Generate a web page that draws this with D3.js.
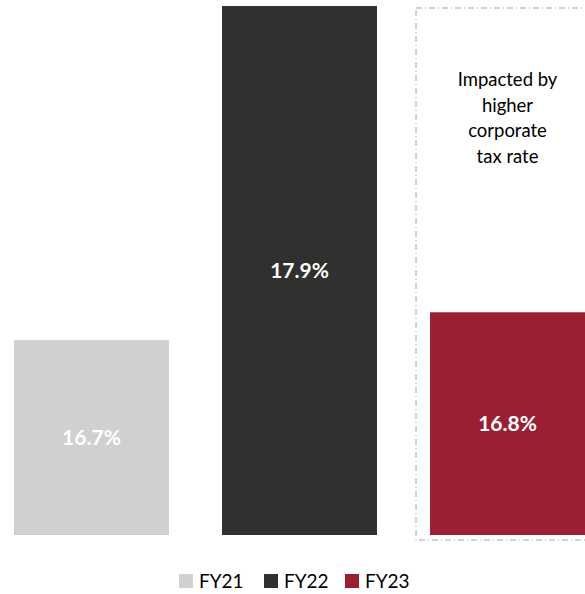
<!DOCTYPE html>
<html>
<head>
<meta charset="utf-8">
<script src="https://cdn.jsdelivr.net/npm/d3@7"></script>
<style>
  body { margin: 0; background: #fff; }
  svg { display: block; font-family: Lato, "Open Sans", sans-serif; }
</style>
</head>
<body>
<script>
"use strict";
// chart data
const years = ["FY21", "FY22", "FY23"]
const rates = [16.7, 17.9, 16.8]
const barColors = ["#d0d0d0", "#30302e", "#9a1f33"]
const noteLines = ["Impacted by", "higher", "corporate", "tax rate"]

const measurements = { width: 585, height: 594 }

let svg = d3.select("body").append("svg")
    .attr("width", measurements.width)
    .attr("height", measurements.height)

// scales
let x = d3.scaleBand()
    .domain(years)
    .range([14, 585])
    .paddingInner(0.255)
    .paddingOuter(0)

let y = d3.scaleLinear()
    .domain([16.0, 17.9])
    .range([535, 6])

let color = d3.scaleOrdinal().domain(years).range(barColors)

// dashed annotation box around FY23
svg.append("rect")
    .attr("x", x("FY23") - 14)
    .attr("y", 8)
    .attr("width", 200)
    .attr("height", 532)
    .attr("fill", "none")
    .attr("stroke", "#a6a6a6")
    .attr("stroke-width", 1)
    .attr("stroke-dasharray", "6,3,1,3")

svg.append("text")
    .attr("x", x("FY23") + x.bandwidth() / 2)
    .attr("y", 86)
    .attr("text-anchor", "middle")
    .attr("font-size", 18.5)
    .attr("fill", "#000")
    .selectAll("tspan")
    .data(noteLines)
    .join("tspan")
    .attr("x", x("FY23") + x.bandwidth() / 2)
    .attr("dy", (d, i) => i === 0 ? 0 : 25.5)
    .text(d => d)

// bars
let data = years.map((yr, i) => ({ year: yr, value: rates[i] }))

svg.selectAll(".bar")
    .data(data)
    .join("rect")
    .attr("class", "bar")
    .attr("x", d => x(d.year))
    .attr("y", d => y(d.value))
    .attr("width", x.bandwidth())
    .attr("height", d => y.range()[0] - y(d.value))
    .attr("fill", d => color(d.year))

svg.selectAll(".val")
    .data(data)
    .join("text")
    .attr("class", "val")
    .attr("x", d => x(d.year) + x.bandwidth() / 2)
    .attr("y", d => (y(d.value) + y.range()[0]) / 2)
    .attr("dy", "0.35em")
    .attr("text-anchor", "middle")
    .attr("font-size", 21)
    .attr("font-weight", "bold")
    .attr("fill", "#fff")
    .text(d => d.value.toFixed(1) + "%")

// legend
const legendX = [179, 264, 345]
let legend = svg.selectAll(".legend")
    .data(years)
    .join("g")
    .attr("class", "legend")
    .attr("transform", (d, i) => `translate(${legendX[i]}, 574)`)

legend.append("rect")
    .attr("width", 14)
    .attr("height", 14)
    .attr("fill", d => color(d))

legend.append("text")
    .attr("x", 20)
    .attr("y", 7)
    .attr("dy", "0.36em")
    .attr("font-size", 19)
    .attr("fill", "#000")
    .text(d => d)
</script>
</body>
</html>
